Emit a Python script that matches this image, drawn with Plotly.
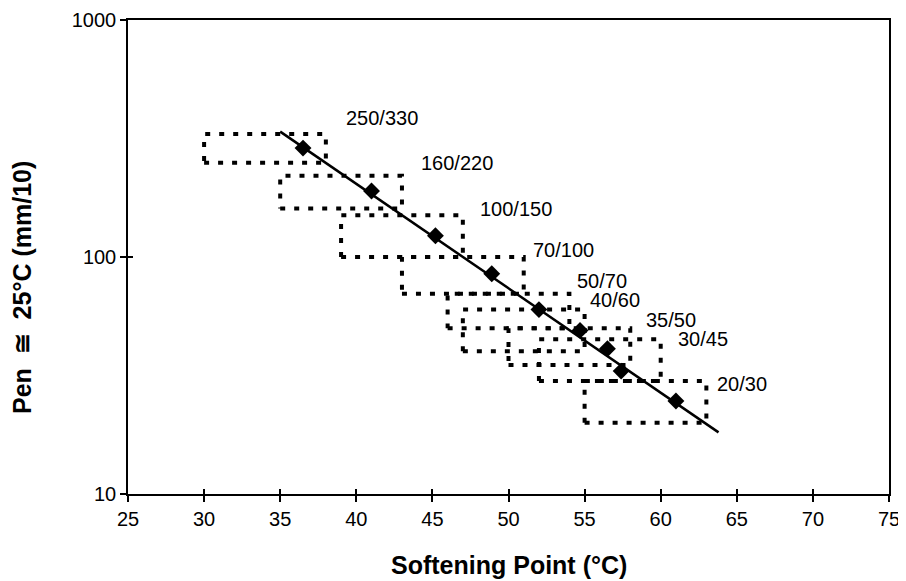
import numpy as np
import plotly.graph_objects as go

# Data points (softening point, penetration)
sp_points = [36.5, 41.0, 45.2, 48.9, 52.0, 54.7, 56.5, 57.4, 61.0]
pen_points = [288, 190, 123, 85, 60, 49, 41, 33, 24.7]

# Regression line end points
line_sp = [35.0, 63.8]
line_pen = [338, 18.2]

# Grade boxes
grades = ["250/330", "160/220", "100/150", "70/100", "50/70", "40/60", "35/50", "30/45", "20/30"]
box_sp_min = [30, 35, 39, 43, 46, 47, 50, 52, 55]
box_sp_max = [38, 43, 47, 51, 54, 55, 58, 60, 63]
box_pen_min = [250, 160, 100, 70, 50, 40, 35, 30, 20]
box_pen_max = [330, 220, 150, 100, 70, 60, 50, 45, 30]

# Label positions
label_sp = [39.2, 44.1, 48.0, 51.5, 54.4, 55.2, 58.9, 61.0, 63.6]
label_pen = [385, 250, 159, 107, 79, 66, 54, 45, 29]

x_ticks = list(range(25, 80, 5))
y_ticks = [10, 100, 1000]

FONT = "Liberation Sans, Arial, sans-serif"

fig = go.Figure()

for i in range(len(grades)):
    x0, x1 = box_sp_min[i], box_sp_max[i]
    y0, y1 = box_pen_min[i], box_pen_max[i]
    fig.add_trace(go.Scatter(
        x=[x0, x1, x1, x0, x0], y=[y0, y0, y1, y1, y0],
        mode="lines", line=dict(color="black", width=4, dash="5px,9px"),
        hoverinfo="skip", showlegend=False))

fig.add_trace(go.Scatter(x=line_sp, y=line_pen, mode="lines",
                         line=dict(color="black", width=2.5), showlegend=False))
fig.add_trace(go.Scatter(x=sp_points, y=pen_points, mode="markers",
                         marker=dict(symbol="diamond", size=13, color="black"),
                         showlegend=False))
# invisible trace for the overlay axes (inner tick halves)
fig.add_trace(go.Scatter(x=[50], y=[100], xaxis="x2", yaxis="y2", mode="markers",
                         marker=dict(opacity=0), hoverinfo="skip", showlegend=False))

for g, lx, ly in zip(grades, label_sp, label_pen):
    fig.add_annotation(x=lx, y=np.log10(ly), text=g, showarrow=False,
                       xanchor="left", yanchor="middle",
                       font=dict(family=FONT, size=20, color="black"))

# Axis titles
fig.add_annotation(xref="paper", yref="paper", x=0.5, y=-0.150, yanchor="middle",
                   text="<b>Softening Point (°C)</b>", showarrow=False,
                   font=dict(family=FONT, size=25, color="black"))
fig.add_annotation(xref="paper", yref="paper", x=-0.139, y=0.435, xanchor="center", yanchor="middle",
                   textangle=-90, text="<b>Pen  ≅  25°C (mm/10)</b>", showarrow=False,
                   font=dict(family=FONT, size=25, color="black"))

axis_common = dict(showgrid=False, zeroline=False, linecolor="black", linewidth=1.5,
                   tickcolor="black", tickwidth=1.5, automargin=False)

# page body adds an 8px offset, so the figure is 8px smaller
fig.update_layout(
    width=898, height=573,
    margin=dict(l=120, r=17, t=12, b=87),
    plot_bgcolor="white", paper_bgcolor="white",
    font=dict(family=FONT, size=20, color="black"),
    xaxis=dict(range=[25, 75], tickvals=x_ticks, ticks="outside", ticklen=6,
               mirror=True, showline=True, **axis_common),
    yaxis=dict(type="log", range=[1, 3], tickvals=y_ticks, ticktext=[str(v) for v in y_ticks],
               ticks="outside", ticklen=6, mirror=True, showline=True, **axis_common),
    xaxis2=dict(range=[25, 75], tickvals=x_ticks, ticks="inside", ticklen=5,
                showticklabels=False, overlaying="x", anchor="y2", showgrid=False, zeroline=False,
                tickcolor="black", tickwidth=1.5, showline=False, automargin=False),
    yaxis2=dict(type="log", range=[1, 3], tickvals=y_ticks, ticks="inside", ticklen=5,
                showticklabels=False, overlaying="y", anchor="x2", showgrid=False, zeroline=False,
                tickcolor="black", tickwidth=1.5, showline=False, automargin=False),
)

fig.write_html("out.html")
